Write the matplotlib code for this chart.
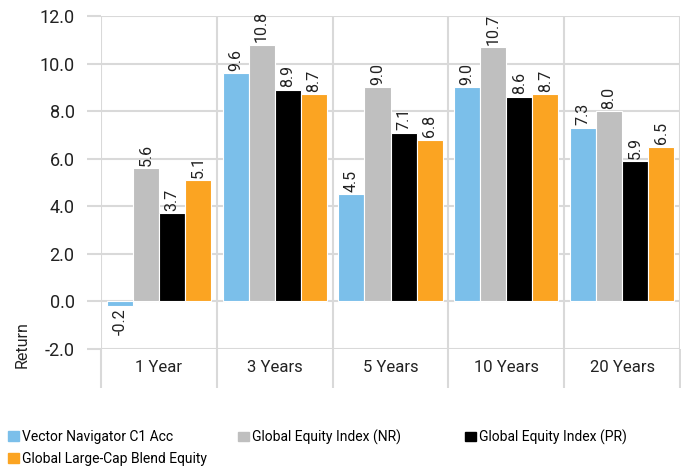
import matplotlib
matplotlib.use("Agg")
import matplotlib.pyplot as plt
import numpy as np
from matplotlib.patches import Patch

plt.rcParams["font.family"] = ["Roboto", "DejaVu Sans"]

categories = ["1 Year", "3 Years", "5 Years", "10 Years", "20 Years"]
series_names = ["Vector Navigator C1 Acc", "Global Equity Index (NR)",
                "Global Equity Index (PR)", "Global Large-Cap Blend Equity"]
fund = [-0.2, 9.6, 4.5, 9.0, 7.3]
index_nr = [5.6, 10.8, 9.0, 10.7, 8.0]
index_pr = [3.7, 8.9, 7.1, 8.6, 5.9]
category_avg = [5.1, 8.7, 6.8, 8.7, 6.5]
colors = ["#7bbfea", "#bfbfbf", "#000000", "#fba422"]

series = [fund, index_nr, index_pr, category_avg]

fig = plt.figure(figsize=(6.81, 4.67), dpi=100)
ax = fig.add_axes([101 / 681, 1 - 349 / 467, 579 / 681, 333 / 467])

x = np.arange(len(categories))
w = 0.225
grid_c = "#d9d9d9"
txt_c = "#222222"

for i, (vals, c) in enumerate(zip(series, colors)):
    pos = x + (i - 1.5) * w
    ax.bar(pos, vals, width=w, color=c, edgecolor="white", linewidth=0.8, zorder=3)
    for p, v in zip(pos, vals):
        if v >= 0:
            ax.text(p, v + 0.1, f"{v:.1f}", rotation=90, ha="center", va="bottom",
                    fontsize=11.5, color=txt_c)
        else:
            ax.text(p, v - 0.1, f"{v:.1f}", rotation=90, ha="center", va="top",
                    fontsize=11.5, color=txt_c)

ax.set_xlim(-0.5, len(categories) - 0.5)
ax.set_ylim(-2, 12)
ax.set_yticks(np.arange(-2, 13, 2))
ax.set_yticklabels([f"{t:.1f}" for t in np.arange(-2, 13, 2)], fontsize=13, color=txt_c)

# category separators
ax.set_xticks(np.arange(-0.5, len(categories), 1))
ax.set_xticklabels([])
ax.set_xticks(x, minor=True)
ax.set_xticklabels(categories, minor=True, fontsize=12, color=txt_c)
ax.tick_params(axis="x", which="major", length=28, width=1.5, color=grid_c)
ax.tick_params(axis="x", which="minor", length=0, pad=8)
ax.tick_params(axis="y", length=10, width=1.5, color=grid_c, pad=9)

ax.grid(True, which="major", color=grid_c, linewidth=1.5, zorder=0)
for s in ax.spines.values():
    s.set_visible(False)

fig.text(22 / 681, 1 - 345 / 467, "Return", rotation=90, ha="center", va="center",
         fontsize=11.5, color=txt_c)

# legend laid out row by row, three columns
col_x = [8 / 681, 238 / 681, 465 / 681]
rows = [[0, 1, 2], [3]]
for r, idxs in enumerate(rows):
    for k, j in enumerate(idxs):
        fig.legend([Patch(color=colors[j])], [series_names[j]], loc="center left",
                   bbox_to_anchor=(col_x[k], 1 - (437 + 22 * r) / 467),
                   frameon=False, fontsize=10, handlelength=0.8, handleheight=0.7,
                   handletextpad=0.2, borderpad=0, borderaxespad=0)

fig.savefig("out.png", dpi=100)
